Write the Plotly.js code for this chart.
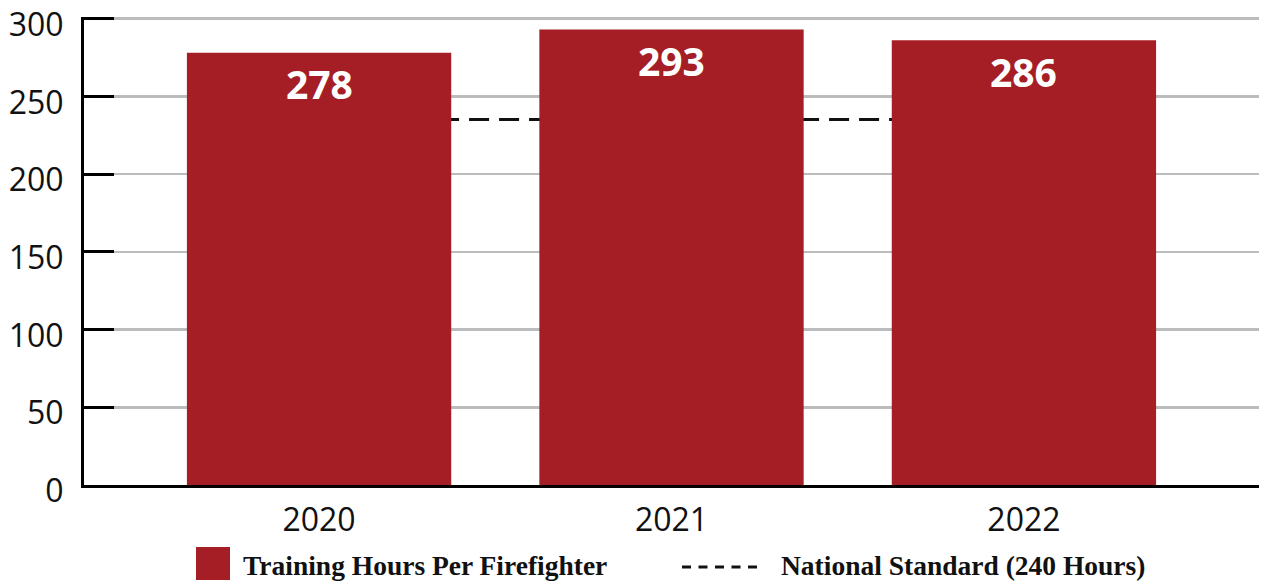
<!DOCTYPE html>
<html>
<head>
<meta charset="utf-8">
<script src="https://cdn.plot.ly/plotly-3.0.1.min.js"></script>
<style>html,body{margin:0;padding:0;background:#fff;}#chart{width:1269px;height:582px;}</style>
</head>
<body>
<div id="chart"></div>
<script>
const years = ['2020', '2021', '2022'];
const trainingHours = [278, 293, 286];
const nationalStandard = [235, 235, 235];
const barName = 'Training Hours Per Firefighter';
const lineName = 'National Standard (240 Hours)';
const yTicks = [0, 50, 100, 150, 200, 250, 300];

const RED = '#A61E25';
const plotL = 84, plotR = 1259, plotT = 17, plotB = 485;
const pw = plotR - plotL, ph = plotB - plotT;
const px = x => (x - plotL) / pw;
const py = y => (plotB - y) / ph;

const bars = {
  type: 'bar', x: years, y: trainingHours, name: barName,
  yaxis: 'y2', marker: {color: RED}, textposition: 'none',
  showlegend: false, hoverinfo: 'x+y'
};
const line = {
  type: 'scatter', mode: 'lines', x: years, y: nationalStandard, name: lineName,
  yaxis: 'y', line: {color: '#111', width: 3, dash: '20px,10px'},
  showlegend: false
};

// category axis: annotations use the category's serial index
const labelAnns = years.map((yr, i) => ({
  x: i, y: trainingHours[i], xref: 'x', yref: 'y', text: '<b>' + trainingHours[i] + '</b>',
  showarrow: false, yanchor: 'middle', yshift: -31,
  font: {family: 'Open Sans', size: 39, color: '#fff'}
}));

const legendFont = {family: 'Liberation Serif', size: 27.5, color: '#111'};
const legendAnns = [
  {xref: 'paper', yref: 'paper', x: px(241), y: py(565), xanchor: 'left', yanchor: 'middle',
   text: '<b>' + barName + '</b>', showarrow: false, font: legendFont},
  {xref: 'paper', yref: 'paper', x: px(779), y: py(565), xanchor: 'left', yanchor: 'middle',
   text: '<b>' + lineName + '</b>', showarrow: false, font: legendFont}
];
const legendShapes = [
  {type: 'rect', xref: 'paper', yref: 'paper', x0: px(196), x1: px(230), y0: py(547), y1: py(580),
   fillcolor: RED, line: {width: 0}},
  {type: 'line', xref: 'paper', yref: 'paper', x0: px(682), x1: px(757), y0: py(567), y1: py(567),
   line: {color: '#111', width: 3, dash: '9px,7.5px'}}
];

const YMAX = 301;
const yax = {
  range: [0, YMAX], tickvals: yTicks, ticktext: yTicks.map(String),
  showgrid: true, gridcolor: '#BABCBE', gridwidth: 2.5,
  showline: true, linecolor: '#000', linewidth: 3,
  ticks: 'inside', ticklen: 30, tickwidth: 3, tickcolor: '#000',
  tickfont: {family: 'Open Sans', size: 32, color: '#111'},
  ticklabelstandoff: 11, ticklabelshift: 6,
  zeroline: false, fixedrange: true
};
const layout = {
  width: 1269, height: 582,
  margin: {l: plotL, r: 1269 - plotR, t: plotT, b: 582 - plotB},
  paper_bgcolor: '#fff', plot_bgcolor: '#fff',
  showlegend: false, bargap: 0.25,
  xaxis: {
    type: 'category', range: [-0.667, 2.667],
    showline: true, linecolor: '#000', linewidth: 3, ticks: '',
    tickfont: {family: 'Open Sans', size: 32, color: '#111'},
    ticklabelstandoff: 5, showgrid: false, zeroline: false, fixedrange: true
  },
  yaxis: yax,
  yaxis2: {overlaying: 'y', range: [0, YMAX], visible: false, showgrid: false, fixedrange: true},
  annotations: labelAnns.concat(legendAnns),
  shapes: legendShapes
};
Plotly.newPlot('chart', [bars, line], layout, {displayModeBar: false, staticPlot: true});
</script>
</body>
</html>
